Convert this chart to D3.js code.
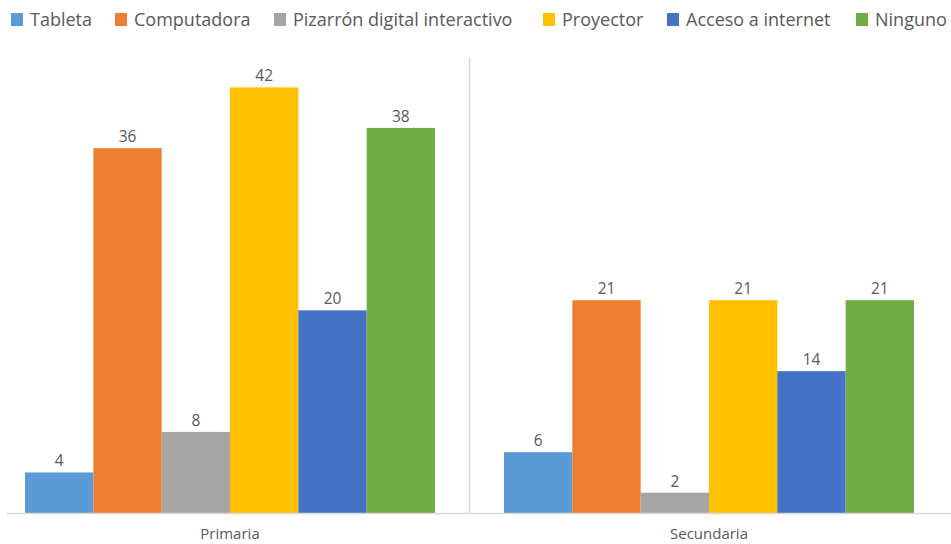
<!DOCTYPE html>
<html>
<head>
<meta charset="utf-8">
<script src="https://cdn.jsdelivr.net/npm/d3@7"></script>
<style>
  html, body { margin: 0; padding: 0; background: #fff; }
  svg { display: block; font-family: "Open Sans", "Noto Sans", sans-serif; }
</style>
</head>
<body>
<svg id="chart" width="951" height="544"></svg>
<script>
// School levels along the x axis
const categories = ["Primaria", "Secundaria"];
// Resources, one bar each per level
const seriesNames = ["Tableta", "Computadora", "Pizarrón digital interactivo", "Proyector", "Acceso a internet", "Ninguno"];
const seriesColors = ["#5B9BD5", "#ED7D31", "#A5A5A5", "#FFC000", "#4472C4", "#70AD47"];
// Values per resource, in category order
const tableta = [4, 6];
const computadora = [36, 21];
const pizarron = [8, 2];
const proyector = [42, 21];
const internet = [20, 14];
const ninguno = [38, 21];
const seriesValues = [tableta, computadora, pizarron, proyector, internet, ninguno];

const svg = d3.select("#chart");
const W = 951, H = 544;
const baseY = 513, topY = 57;

// Category bands run edge to edge; the first one starts slightly left of the frame
const x0 = d3.scaleBand().domain(categories).range([-9.5, 948.5]).paddingInner(0).paddingOuter(0);
const x1 = d3.scaleBand().domain(seriesNames).range([0, x0.bandwidth()]).paddingInner(0).paddingOuter(0.505);
const y = d3.scaleLinear().domain([0, 45]).range([baseY, topY]);

// Divider between the two categories
svg.append("line")
  .attr("x1", x0("Secundaria")).attr("x2", x0("Secundaria"))
  .attr("y1", topY).attr("y2", baseY)
  .attr("stroke", "#D9D9D9").attr("stroke-width", 1.5);

// Bars
const rows = [];
categories.forEach((c, ci) => seriesNames.forEach((s, si) => rows.push({ c, s, si, v: seriesValues[si][ci] })));

const g = svg.append("g");
g.selectAll("rect").data(rows).join("rect")
  .attr("x", d => x0(d.c) + x1(d.s))
  .attr("width", x1.bandwidth())
  .attr("y", d => y(d.v))
  .attr("height", d => baseY - y(d.v))
  .attr("fill", d => seriesColors[d.si]);

// Value labels above bars
g.selectAll("text.val").data(rows).join("text")
  .attr("class", "val")
  .attr("x", d => x0(d.c) + x1(d.s) + x1.bandwidth() / 2)
  .attr("y", d => y(d.v) - 6)
  .attr("text-anchor", "middle")
  .attr("font-size", 15.5)
  .attr("fill", "#595959")
  .text(d => d.v);

// Horizontal axis line
svg.append("line")
  .attr("x1", 7).attr("x2", W)
  .attr("y1", baseY + 0.5).attr("y2", baseY + 0.5)
  .attr("stroke", "#D9D9D9").attr("stroke-width", 1.5);

// Category labels
const xAxis = d3.axisBottom(x0).tickSize(0).tickPadding(0);
const ax = svg.append("g").attr("transform", `translate(0,${baseY})`).call(xAxis);
ax.select(".domain").remove();
ax.selectAll("text")
  .attr("dy", 0).attr("y", 26)
  .attr("font-size", 15)
  .attr("font-family", "\"Open Sans\", \"Noto Sans\", sans-serif")
  .attr("fill", "#595959");

// Legend across the top
const legendX = [11, 115, 274, 543, 667, 856];
const leg = svg.append("g").selectAll("g").data(seriesNames).join("g")
  .attr("transform", (d, i) => `translate(${legendX[i]},13)`);
leg.append("rect").attr("width", 12).attr("height", 13).attr("fill", (d, i) => seriesColors[i]);
leg.append("text")
  .attr("x", 19).attr("y", 13)
  .attr("font-size", 18)
  .attr("fill", "#595959")
  .text(d => d);
</script>
</body>
</html>
